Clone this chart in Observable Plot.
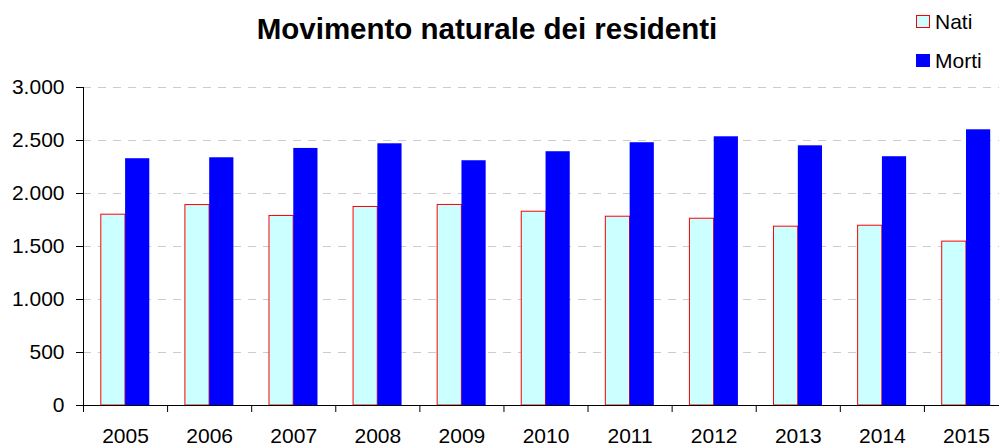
<!DOCTYPE html>
<html><head><meta charset="utf-8">
<script src="https://cdn.jsdelivr.net/npm/d3@7"></script>
<script src="https://cdn.jsdelivr.net/npm/@observablehq/plot@0.6"></script>
<style>
body{margin:0;background:#fff;font-family:"Liberation Sans",Arial,sans-serif;color:#000}
#wrap{width:999px;height:448px;position:relative;overflow:hidden;background:#fff}
#head{position:relative;height:75px}
#title{position:absolute;left:0;width:974px;text-align:center;top:14px;font-weight:bold;font-size:29.5px;line-height:29.5px;white-space:nowrap}
.sw{position:absolute;left:916px;width:14px;height:13px;box-sizing:border-box}
.lt{position:absolute;left:935px;font-size:21px;line-height:21px;white-space:nowrap}
#chart svg{display:block}
</style></head>
<body><div id="wrap"><div id="head"><div id="title">Movimento naturale dei residenti</div></div><div id="chart"></div></div>
<script>
const years = [2005, 2006, 2007, 2008, 2009, 2010, 2011, 2012, 2013, 2014, 2015];
const nati  = [1800, 1891, 1788, 1873, 1892, 1828, 1781, 1762, 1687, 1696, 1546];
const morti = [2328, 2337, 2425, 2469, 2309, 2394, 2479, 2535, 2450, 2347, 2601];
const yTicks = [0, 500, 1000, 1500, 2000, 2500, 3000];
const series = ["Nati", "Morti"];
const fills = ["#CCFFFF", "#0000FF"];
const strokes = ["#FF0000", "#0000FF"];

// legend
const head = document.getElementById("head");
const legTops = [15, 54];
const textTops = [11, 50];
series.forEach((s, i) => {
  const sw = document.createElement("div");
  sw.className = "sw";
  sw.style.top = legTops[i] + "px";
  sw.style.background = fills[i];
  sw.style.border = "1px solid " + strokes[i];
  head.appendChild(sw);
  const t = document.createElement("div");
  t.className = "lt";
  t.style.top = textTops[i] + "px";
  t.textContent = s;
  head.appendChild(t);
});

const rows = years.map((year, i) => ({year, nati: nati[i], morti: morti[i]}));
const itFmt = d3.formatLocale({decimal: ",", thousands: ".", grouping: [3], currency: ["€", ""]}).format(",");
const x0 = years[0] - 0.5, x1 = years[years.length - 1] + 0.5;
const bounds = d3.range(years.length + 1).map(i => x0 + i);
const barW = 24.3, outer = 17.8;

const chart = Plot.plot({
  width: 999, height: 373,
  marginTop: 12, marginBottom: 43, marginLeft: 83, marginRight: -9,
  style: {fontFamily: "'Liberation Sans', Arial, sans-serif", background: "white", color: "black"},
  x: {type: "linear", domain: [x0, x1]},
  y: {domain: [0, 3000]},
  marks: [
    Plot.ruleY(yTicks.filter(v => v > 0), {stroke: "#cccccc", strokeDasharray: "8,7"}),
    Plot.rectY(rows, {x1: d => d.year - 0.5, x2: d => d.year + 0.5, y: "nati",
      insetLeft: outer, insetRight: outer + barW, fill: fills[0], stroke: strokes[0], strokeWidth: 1}),
    Plot.rectY(rows, {x1: d => d.year - 0.5, x2: d => d.year + 0.5, y: "morti",
      insetLeft: outer + barW, insetRight: outer, fill: fills[1]}),
    Plot.ruleX([x0], {stroke: "black"}),
    Plot.ruleY([0], {stroke: "black"}),
    Plot.axisY({ticks: yTicks, tickSize: 7, tickPadding: 12, tickFormat: itFmt, fontSize: 21, label: null}),
    Plot.axisX({ticks: bounds, tickSize: 7, tickFormat: () => "", label: null}),
    Plot.axisX({ticks: years, tickSize: 0, tickPadding: 23, tickFormat: d => String(d), fontSize: 21, label: null})
  ]
});
document.getElementById("chart").appendChild(chart);
</script>
</body></html>
